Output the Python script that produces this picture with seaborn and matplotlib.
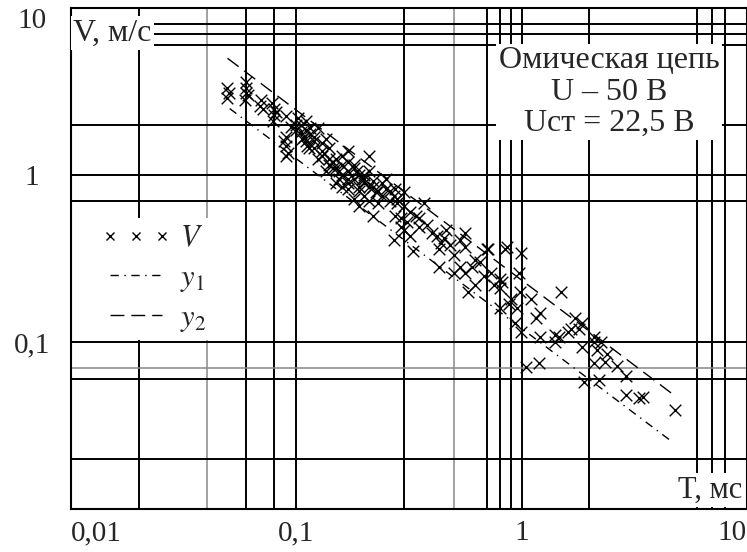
import matplotlib
matplotlib.use('Agg')
import matplotlib.pyplot as plt
from matplotlib.lines import Line2D
from matplotlib.ticker import NullLocator
import seaborn as sns

# measured points: T (ms) and V (m/s)
T = [0.049, 0.049, 0.05,
     0.06, 0.06, 0.061, 0.059, 0.06,
     0.07, 0.071, 0.069,
     0.078, 0.08, 0.08, 0.079, 0.081,
     0.09, 0.09, 0.09, 0.092, 0.088, 0.09,
     0.1, 0.102, 0.11, 0.115, 0.105, 0.11, 0.112, 0.108, 0.106, 0.114,
     0.125, 0.135, 0.14, 0.13, 0.145, 0.15, 0.135, 0.125, 0.17, 0.21,
     0.145, 0.16, 0.185, 0.195, 0.155, 0.17, 0.18, 0.19, 0.225, 0.25,
     0.23, 0.275, 0.3, 0.3, 0.22, 0.275, 0.29, 0.27, 0.32,
     0.16, 0.17, 0.18, 0.2, 0.21, 0.19, 0.17, 0.16, 0.2, 0.22, 0.24,
     0.26, 0.18, 0.15, 0.14, 0.12, 0.13, 0.12, 0.11,
     0.15, 0.16, 0.17, 0.18, 0.19, 0.2, 0.21, 0.22, 0.23, 0.24, 0.26,
     0.27, 0.28, 0.2, 0.21, 0.19, 0.17, 0.155, 0.14, 0.13, 0.12, 0.115,
     0.1, 0.095, 0.105,
     0.25, 0.28, 0.37, 0.34, 0.29, 0.3, 0.35, 0.33, 0.42, 0.44, 0.43,
     0.46, 0.53, 0.56, 0.43, 0.53, 0.5, 0.56, 0.6, 0.62, 0.71, 0.84,
     0.58, 0.73, 0.82, 0.9, 0.56,
     0.32, 0.35, 0.38, 0.31, 0.4, 0.45, 0.48, 0.5, 0.65, 0.68, 0.75, 0.62,
     0.7, 0.86, 0.99, 0.8, 0.8, 0.97, 0.98, 0.8, 0.95, 1.1, 1.2, 1.16,
     1.5, 0.99, 1.2, 1.4, 1.4, 1.73, 1.8, 1.66, 1.85, 2.1, 2.25, 2.15,
     1.85, 2.4, 2.1, 2.35, 2.65, 2.9, 1.9, 2.2, 2.9, 3.3, 3.45, 4.8,
     1.04, 1.19, 0.93, 1.6, 2.1, 1.46, 0.88]
V = [3.3, 2.9, 3.1,
     3.6, 3.3, 3.0, 2.8, 3.1,
     2.8, 2.5, 2.6,
     2.7, 2.5, 2.3, 2.1, 2.4,
     2.25, 1.7, 1.5, 1.35, 1.6, 1.3,
     2.0, 2.2, 2.1, 1.9, 1.8, 1.6, 1.5, 1.7, 1.65, 1.45,
     1.9, 1.65, 1.45, 1.3, 1.2, 1.1, 1.05, 1.25, 1.4, 1.3,
     1.1, 1.15, 1.05, 0.95, 0.95, 0.82, 0.72, 0.65, 0.79, 0.95,
     0.68, 0.82, 0.79, 0.65, 0.57, 0.57, 0.49, 0.41, 0.43,
     1.0, 1.05, 0.95, 0.9, 0.85, 0.8, 0.9, 0.85, 1.0, 0.92, 0.75,
     0.7, 1.15, 0.9, 1.25, 1.45, 1.55, 1.7, 1.85,
     1.25, 1.3, 1.2, 1.1, 1.0, 0.95, 1.05, 0.85, 0.8, 0.9, 0.8,
     0.75, 0.72, 0.75, 0.7, 0.85, 0.95, 1.05, 1.15, 1.4, 1.6, 1.75,
     1.85, 1.95, 2.0,
     0.82, 0.68, 0.68, 0.57, 0.55, 0.47, 0.49, 0.35, 0.43, 0.39, 0.36,
     0.47, 0.41, 0.37, 0.28, 0.28, 0.26, 0.26, 0.28, 0.31, 0.36, 0.36,
     0.2, 0.26, 0.23, 0.18, 0.45,
     0.6, 0.55, 0.5, 0.52, 0.45, 0.42, 0.38, 0.33, 0.3, 0.25, 0.22, 0.22,
     0.36, 0.37, 0.34, 0.24, 0.21, 0.26, 0.2, 0.16, 0.16, 0.18, 0.15, 0.14,
     0.2, 0.115, 0.107, 0.11, 0.1, 0.14, 0.12, 0.12, 0.093, 0.1, 0.1, 0.089,
     0.13, 0.085, 0.075, 0.076, 0.072, 0.063, 0.058, 0.059, 0.048, 0.046, 0.047, 0.039,
     0.071, 0.075, 0.13, 0.115, 0.107, 0.107, 0.17]

# fitted lines
t_y1 = [0.0506, 4.7]
v_y1 = [2.5, 0.025]
t_y2 = [0.0495, 4.75]
v_y2 = [5.0, 0.048]

# grid lines as drawn on the original
grid_x_black = [0.02, 0.06, 0.08, 0.1, 0.3, 0.7, 0.8, 0.9, 1, 2, 6, 7, 8]
grid_x_gray = [0.04, 0.5]
grid_y_black = [8, 7, 6, 2, 1, 0.7, 0.1, 0.06, 0.02]
grid_y_gray = [0.07]

x_ticks = [0.01, 0.1, 1, 10]
x_labels = ['0,01', '0,1', '1', '10']
y_ticks = [0.1, 1, 10]
y_labels = ['0,1', '1', '10']

sns.set_style('white')
plt.rcParams['font.family'] = ['Liberation Serif', 'DejaVu Serif']
plt.rcParams['mathtext.fontset'] = 'stix'

fig = plt.figure(figsize=(7.47, 5.52), dpi=100)
ax = fig.add_axes([71 / 747, 43 / 552, 676 / 747, 501 / 552])
ax.set(xscale='log', yscale='log', xlim=(0.01, 10), ylim=(0.01, 10))

for g in grid_x_black:
    ax.axvline(g, color='black', lw=1.4, zorder=1)
for g in grid_x_gray:
    ax.axvline(g, color='#888888', lw=1.1, zorder=1)
for g in grid_y_black:
    ax.axhline(g, color='black', lw=1.4, zorder=1)
for g in grid_y_gray:
    ax.axhline(g, color='#888888', lw=1.1, zorder=1)

dash_y1 = (0, (6, 4, 1, 4))
dash_y2 = (0, (10, 5))

sns.scatterplot(x=T, y=V, marker='x', color='black', s=70, linewidth=1.0, ax=ax, zorder=3)
sns.lineplot(x=t_y1, y=v_y1, color='black', lw=1.0, linestyle=dash_y1, ax=ax, zorder=2)
sns.lineplot(x=t_y2, y=v_y2, color='black', lw=1.0, linestyle=dash_y2, ax=ax, zorder=2)

ax.set_xticks(x_ticks, x_labels)
ax.set_yticks(y_ticks, y_labels)
ax.xaxis.set_minor_locator(NullLocator())
ax.yaxis.set_minor_locator(NullLocator())
ax.tick_params(length=0, labelsize=21)
ax.tick_params(axis='x', pad=8)
ax.tick_params(axis='y', pad=28)
xl = ax.get_xticklabels()
xl[0].set_ha('left')
xl[-1].set_ha('right')
for lbl in ax.get_yticklabels():
    lbl.set_ha('center')
ax.get_yticklabels()[-1].set_va('top')
ax.set_xlabel('')
ax.set_ylabel('')

for s in ax.spines.values():
    s.set_color('black')
    s.set_linewidth(1.5)

box = dict(facecolor='white', edgecolor='none', pad=1.5)
ax.text(0.003, 0.95, 'V, м/с', transform=ax.transAxes, fontsize=23,
        ha='left', va='center', bbox=box, zorder=5)
ax.text(0.9926, 0.038, 'T, мс', transform=ax.transAxes, fontsize=22,
        ha='right', va='center', bbox=box, zorder=5)
ax.text(0.796, 0.832, 'Омическая цепь\nU – 50 В\nUст = 22,5 В', transform=ax.transAxes,
        fontsize=23, ha='center', va='center', multialignment='center',
        linespacing=1.1, bbox=box, zorder=5)

handles = [Line2D([], [], marker='x', color='black', ls='none', markersize=6, mew=1.0),
           Line2D([], [], color='black', lw=1.0, ls=dash_y1),
           Line2D([], [], color='black', lw=1.0, ls=dash_y2)]
leg = ax.legend(handles, ['$V$', '$y_1$', '$y_2$'], loc='upper left',
                bbox_to_anchor=(0.035, 0.58), borderaxespad=0, fontsize=22,
                numpoints=3, handlelength=2.3, handletextpad=0.3, labelspacing=0.33,
                frameon=True, facecolor='white', edgecolor='none', framealpha=1,
                fancybox=False, borderpad=0.2)
leg.set_zorder(5)

fig.savefig('out.png', dpi=100)
